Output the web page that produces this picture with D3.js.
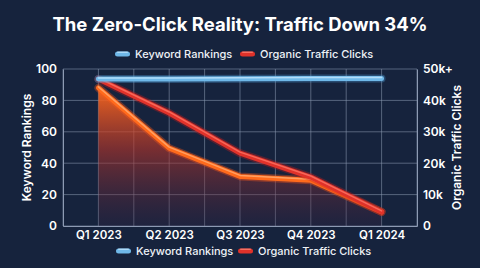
<!DOCTYPE html>
<html>
<head>
<meta charset="utf-8">
<script src="https://cdn.jsdelivr.net/npm/d3@7"></script>
<style>
  html, body { margin: 0; padding: 0; background: #16233d; }
  svg { display: block; font-family: Inter, "Noto Sans", sans-serif; }
</style>
</head>
<body>
<svg width="480" height="268"></svg>
<script>
// data
var quarters = ["Q1 2023", "Q2 2023", "Q3 2023", "Q4 2023", "Q1 2024"];
var rankings = [93.6, 93.7, 93.8, 93.9, 94];
var clicks = [46800, 36000, 23200, 15600, 4500];
var clicksTrend = [44000, 24800, 15800, 14600, 4500];
var leftTicks = [0, 20, 40, 60, 80, 100];
var rightTicks = [0, 10000, 20000, 30000, 40000, 50000];
var rightLabels = ["0", "10k", "20k", "30k", "40k", "50k+"];

var svg = d3.select("svg");
var W = 480, H = 268;
var pL = 63, pR = 417, pT = 69, pB = 226;

svg.append("rect").attr("width", W).attr("height", H).attr("fill", "#16233d");

var x = d3.scalePoint().domain(quarters).range([pL, pR]).padding(0.5);
var yL = d3.scaleLinear().domain([0, 100]).range([pB, pT]);
var yR = d3.scaleLinear().domain([0, 50000]).range([pB, pT]);

// title
svg.append("text")
  .attr("x", 240).attr("y", 31)
  .attr("text-anchor", "middle")
  .attr("fill", "#ffffff")
  .attr("font-size", "18.5px")
  .attr("font-weight", 700)
  .text("The Zero-Click Reality: Traffic Down 34%");

// grid
var grid = svg.append("g");
var step = x.step();
var vlines = [];
for (var i = 0; i <= quarters.length * 2; i++) vlines.push(pL + i * step / 2);
grid.selectAll(".v").data(vlines).enter().append("line")
  .attr("x1", function(d) { return d; }).attr("x2", function(d) { return d; })
  .attr("y1", pT).attr("y2", pB)
  .attr("stroke", "#8d9ab3").attr("stroke-opacity", 0.55).attr("stroke-width", 1);
grid.selectAll(".h").data(leftTicks).enter().append("line")
  .attr("x1", pL).attr("x2", pR)
  .attr("y1", function(d) { return yL(d); }).attr("y2", function(d) { return yL(d); })
  .attr("stroke", "#8d9ab3").attr("stroke-opacity", 0.55).attr("stroke-width", 1);

function styleAxis(ax, size) {
  ax.select(".domain").attr("stroke", "#8d9ab3");
  ax.selectAll("text").attr("fill", "#ffffff").attr("font-size", size)
    .attr("font-weight", 600).attr("font-family", "Inter, sans-serif");
}

// left axis
var axL = svg.append("g").attr("transform", "translate(" + pL + ",0)")
  .call(d3.axisLeft(yL).tickValues(leftTicks).tickSize(0).tickPadding(6));
styleAxis(axL, "12px");

// right axis
var axR = svg.append("g").attr("transform", "translate(" + pR + ",0)")
  .call(d3.axisRight(yR).tickValues(rightTicks).tickSize(0).tickPadding(6)
    .tickFormat(function(d, i) { return rightLabels[i]; }));
styleAxis(axR, "12px");

// bottom axis
var axB = svg.append("g").attr("transform", "translate(0," + pB + ")")
  .call(d3.axisBottom(x).tickSize(0).tickPadding(5));
styleAxis(axB, "11.5px");

// axis titles
svg.append("text")
  .attr("transform", "translate(27," + ((pT + pB) / 2) + ") rotate(-90)")
  .attr("text-anchor", "middle").attr("dy", "0.35em")
  .attr("fill", "#ffffff").attr("font-size", "12px").attr("font-weight", 600)
  .text("Keyword Rankings");
svg.append("text")
  .attr("transform", "translate(457," + ((pT + pB) / 2) + ") rotate(-90)")
  .attr("text-anchor", "middle").attr("dy", "0.35em")
  .attr("fill", "#ffffff").attr("font-size", "12px").attr("font-weight", 600)
  .text("Organic Traffic Clicks");

// gradient for the area
var defs = svg.append("defs");
var grad = defs.append("linearGradient").attr("id", "areaGrad")
  .attr("gradientUnits", "userSpaceOnUse")
  .attr("x1", 0).attr("x2", 0).attr("y1", yR(44000)).attr("y2", pB);
grad.append("stop").attr("offset", "0").attr("stop-color", "#ff6a1c").attr("stop-opacity", 0.95);
grad.append("stop").attr("offset", "0.45").attr("stop-color", "#b8352a").attr("stop-opacity", 0.6);
grad.append("stop").attr("offset", "1").attr("stop-color", "#3a2444").attr("stop-opacity", 0.25);

var area = d3.area()
  .x(function(d, i) { return x(quarters[i]); })
  .y0(pB)
  .y1(function(d) { return yR(d); });
svg.append("path").datum(clicksTrend).attr("d", area).attr("fill", "url(#areaGrad)");

function tube(values, scale, base, light, glow) {
  var line = d3.line()
    .x(function(d, i) { return x(quarters[i]); })
    .y(function(d) { return scale(d); });
  var g = svg.append("g");
  g.append("path").datum(values).attr("d", line)
    .attr("fill", "none").attr("stroke", glow).attr("stroke-opacity", 0.35)
    .attr("stroke-width", 8).attr("stroke-linecap", "round").attr("stroke-linejoin", "round");
  g.append("path").datum(values).attr("d", line)
    .attr("fill", "none").attr("stroke", base)
    .attr("stroke-width", 5).attr("stroke-linecap", "round").attr("stroke-linejoin", "round");
  g.append("path").datum(values).attr("d", line)
    .attr("transform", "translate(0,-1)")
    .attr("fill", "none").attr("stroke", light).attr("stroke-opacity", 0.75)
    .attr("stroke-width", 1.5).attr("stroke-linecap", "round").attr("stroke-linejoin", "round");
}

tube(clicksTrend, yR, "#ff6a1c", "#ffb27a", "#ff5a1a");
tube(clicks, yR, "#e0322a", "#ff7a6a", "#c81e1e");
tube(rankings, yL, "#6fb8e8", "#c8e8ff", "#4a9ad6");

// legends
function legend(y, xs) {
  var items = [
    { label: "Keyword Rankings", color: "#6fb8e8", hi: "#c8e8ff" },
    { label: "Organic Traffic Clicks", color: "#e0322a", hi: "#ff8a7a" }
  ];
  items.forEach(function(it, i) {
    var g = svg.append("g").attr("transform", "translate(" + xs[i] + "," + y + ")");
    g.append("rect").attr("x", 0).attr("y", -2.5).attr("width", 15).attr("height", 5).attr("rx", 2.5)
      .attr("fill", it.color);
    g.append("rect").attr("x", 2).attr("y", -2.5).attr("width", 11).attr("height", 1.5).attr("rx", 0.75)
      .attr("fill", it.hi).attr("opacity", 0.7);
    g.append("text").attr("x", 20).attr("dy", "0.35em")
      .attr("fill", "#eef2f7").attr("font-size", "11px").attr("font-weight", 500)
      .text(it.label);
  });
}
legend(54, [115, 240]);
legend(251, [116, 238]);
</script>
</body>
</html>
